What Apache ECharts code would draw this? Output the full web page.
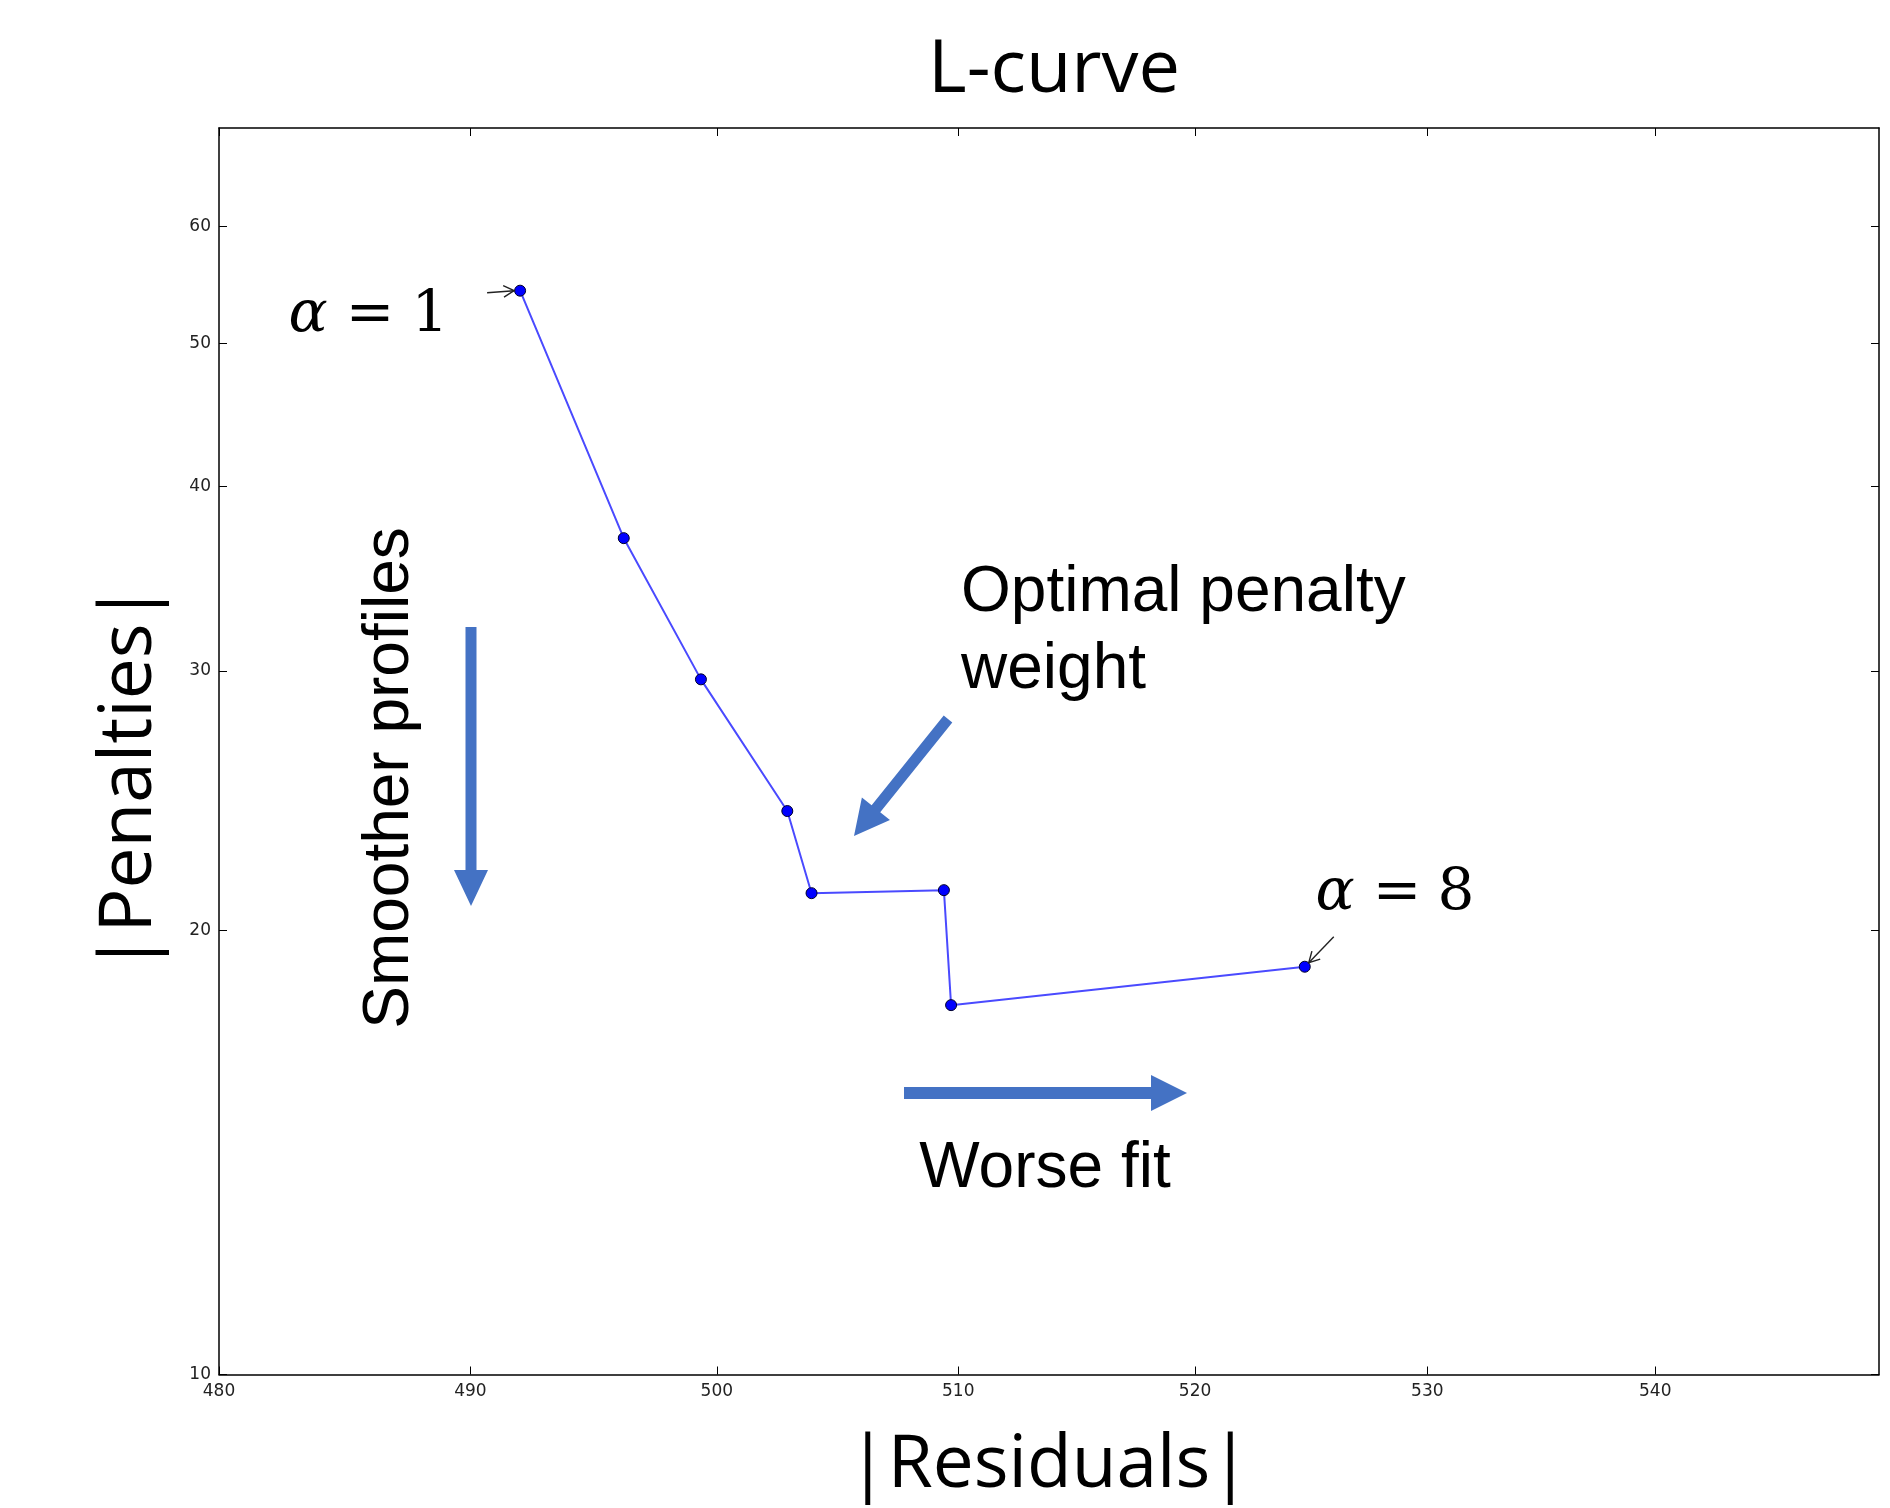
<!DOCTYPE html>
<html><head><meta charset="utf-8">
<script src="https://cdn.jsdelivr.net/npm/echarts@6/dist/echarts.min.js"></script>
<style>html,body{margin:0;padding:0;background:#fff}#c{width:1890px;height:1508px}</style>
</head><body><div id="c"></div>
<script>
// ---- data (log-log L-curve) ----
const residuals = [492.0, 496.2, 499.35, 502.9, 503.9, 509.4, 509.7, 524.7];
const penalties = [54.3, 36.9, 29.6, 24.1, 21.2, 21.3, 17.8, 18.9];
const xTicks = [480, 490, 500, 510, 520, 530, 540];
const yTicks = [10, 20, 30, 40, 50, 60];
const xRange = [480, 550];
const yRange = [10, 70];
const titleText = 'L-curve';
const xName = '|Residuals|';
const yName = '|Penalties|';
const firstLabel = ['α', '=', '1'];
const lastLabel = ['α', '=', '8'];
const noteOptimal = ['Optimal penalty', 'weight'];
const noteSmooth = 'Smoother profiles';
const noteWorse = 'Worse fit';

const chart = echarts.init(document.getElementById('c'), null, {renderer: 'canvas'});
const pts = residuals.map((r, i) => [r, penalties[i]]);
const tickLabel = {fontFamily: 'DejaVu Sans', fontSize: 17, color: '#222'};
const axisLine = {show: true, lineStyle: {color: '#000', width: 1.5}};

chart.setOption({
  animation: false,
  backgroundColor: '#fff',
  title: {
    text: titleText, left: 928, top: 34, padding: 0,
    textStyle: {fontFamily: 'Open Sans', fontSize: 74, fontWeight: 'normal', color: '#000'}
  },
  grid: {left: 219, right: 11, top: 128, bottom: 133, containLabel: false},
  xAxis: [{
    type: 'log', logBase: 10, min: xRange[0], max: xRange[1], position: 'bottom',
    name: xName, nameLocation: 'middle', nameGap: 92,
    nameTextStyle: {fontFamily: 'Open Sans', fontSize: 73, color: '#000', verticalAlign: 'middle'},
    axisLine: axisLine,
    axisTick: {show: true, inside: true, length: 8, customValues: xTicks, lineStyle: {color: '#000', width: 1}},
    axisLabel: Object.assign({show: true, margin: 9, customValues: xTicks}, tickLabel),
    splitLine: {show: false}, minorTick: {show: false}
  }, {
    type: 'log', logBase: 10, min: xRange[0], max: xRange[1], position: 'top',
    axisLine: axisLine,
    axisTick: {show: true, inside: true, length: 8, customValues: xTicks, lineStyle: {color: '#000', width: 1}},
    axisLabel: {show: false},
    splitLine: {show: false}
  }],
  yAxis: [{
    type: 'log', logBase: 10, min: yRange[0], max: yRange[1], position: 'left',
    axisLine: axisLine,
    axisTick: {show: true, inside: true, length: 8, customValues: yTicks, lineStyle: {color: '#000', width: 1}},
    axisLabel: Object.assign({show: true, margin: 8, customValues: yTicks}, tickLabel),
    splitLine: {show: false}
  }, {
    type: 'log', logBase: 10, min: yRange[0], max: yRange[1], position: 'right',
    axisLine: axisLine,
    axisTick: {show: true, inside: true, length: 8, customValues: yTicks, lineStyle: {color: '#000', width: 1}},
    axisLabel: {show: false},
    splitLine: {show: false}
  }],
  series: [{
    type: 'line', xAxisIndex: 0, yAxisIndex: 0,
    data: pts,
    symbol: 'circle', symbolSize: 11,
    lineStyle: {color: '#4a4aff', width: 2},
    itemStyle: {color: '#0000ff', borderColor: '#00002a', borderWidth: 1},
    z: 5
  }]
});

// ---- annotations ----
function arrowPoly(x1, y1, x2, y2, sw, hw, hl) {
  const dx = x2 - x1, dy = y2 - y1, L = Math.hypot(dx, dy);
  const ux = dx / L, uy = dy / L, nx = -uy, ny = ux;
  const bx = x2 - ux * hl, by = y2 - uy * hl;
  return [[x1 + nx * sw / 2, y1 + ny * sw / 2], [bx + nx * sw / 2, by + ny * sw / 2],
          [bx + nx * hw / 2, by + ny * hw / 2], [x2, y2],
          [bx - nx * hw / 2, by - ny * hw / 2], [bx - nx * sw / 2, by - ny * sw / 2],
          [x1 - nx * sw / 2, y1 - ny * sw / 2]];
}
function thinArrow(tx, ty, hx, hy) {
  const dx = hx - tx, dy = hy - ty, L = Math.hypot(dx, dy);
  const ux = dx / L, uy = dy / L, a = 0.5, h = 12;
  const c = Math.cos(a), s = Math.sin(a);
  const w1 = [hx - h * (ux * c - uy * s), hy - h * (uy * c + ux * s)];
  const w2 = [hx - h * (ux * c + uy * s), hy - h * (uy * c - ux * s)];
  return [
    {type: 'line', shape: {x1: tx, y1: ty, x2: hx, y2: hy}, style: {stroke: '#222', lineWidth: 1.4}, z: 10},
    {type: 'polyline', shape: {points: [w1, [hx, hy], w2]}, style: {stroke: '#222', lineWidth: 1.4, fill: null}, z: 10}
  ];
}
function txt(x, y, text, font, align, rot) {
  return {type: 'text', x: x, y: y, z: 10, rotation: rot || 0,
    style: Object.assign({text: text, fill: '#000', align: align || 'left', verticalAlign: 'middle'}, font)};
}
const blue = '#4472c4';
const sans = {fontFamily: 'Liberation Sans', fontSize: 64};
const serif = {fontFamily: 'DejaVu Serif', fontSize: 58};
const serifIt = {fontFamily: 'DejaVu Serif', fontSize: 58, fontStyle: 'italic'};
const bigSans = {fontFamily: 'Open Sans', fontSize: 73};

const p0 = chart.convertToPixel({seriesIndex: 0}, pts[0]);
const pN = chart.convertToPixel({seriesIndex: 0}, pts[pts.length - 1]);

const els = [];
// y axis title, centred where the reference puts it
els.push(txt(130, 778, yName, bigSans, 'center', Math.PI / 2));
// alpha = 1
els.push(txt(308, 316, firstLabel[0], serifIt, 'center'));
els.push(txt(370, 316, firstLabel[1], serif, 'center'));
els.push(txt(430, 316, firstLabel[2], serif, 'center'));
thinArrow(p0[0] - 33, p0[1] + 2, p0[0] - 6, p0[1]).forEach(e => els.push(e));
// alpha = 8
els.push(txt(1335, 894, lastLabel[0], serifIt, 'center'));
els.push(txt(1397, 894, lastLabel[1], serif, 'center'));
els.push(txt(1456, 894, lastLabel[2], serif, 'center'));
thinArrow(pN[0] + 29, pN[1] - 30, pN[0] + 4, pN[1] - 4).forEach(e => els.push(e));
// notes
els.push(txt(961, 593, noteOptimal[0], sans));
els.push(txt(961, 670, noteOptimal[1], sans));
els.push({type: 'polygon', shape: {points: arrowPoly(948, 719, 854, 836, 11, 36, 35)}, style: {fill: blue}, z: 9});
els.push(txt(390, 778, noteSmooth, sans, 'center', Math.PI / 2));
els.push({type: 'polygon', shape: {points: arrowPoly(471, 627, 471, 906, 11, 34, 36)}, style: {fill: blue}, z: 9});
els.push({type: 'polygon', shape: {points: arrowPoly(904, 1093, 1187, 1093, 12, 36, 36)}, style: {fill: blue}, z: 9});
els.push(txt(1045, 1169, noteWorse, sans, 'center'));

chart.setOption({graphic: {elements: els}});
</script>
</body></html>
